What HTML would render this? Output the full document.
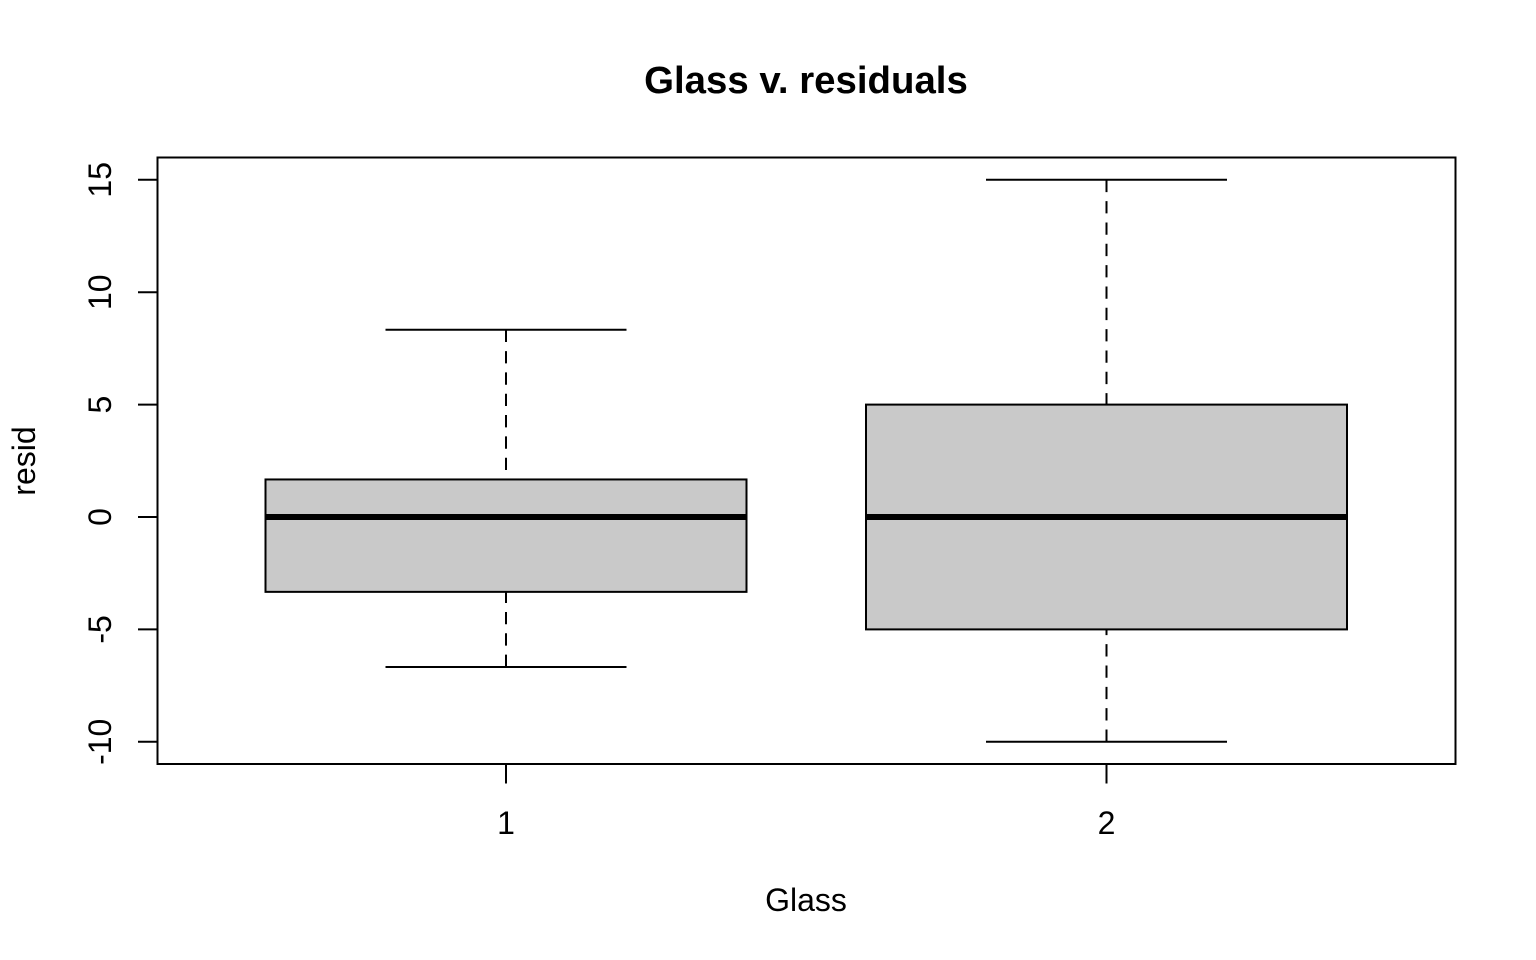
<!DOCTYPE html>
<html>
<head>
<meta charset="utf-8">
<style>
html,body{margin:0;padding:0;background:#fff;}
svg{display:block;}
text{font-family:"Liberation Sans",Arial,sans-serif;fill:#000;}
</style>
</head>
<body>
<svg id="chart" xmlns="http://www.w3.org/2000/svg" width="1536" height="960" viewBox="0 0 1536 960">
<text x="806" y="93" text-anchor="middle" font-size="38.4" font-weight="bold">Glass v. residuals</text>
<text x="806" y="911" text-anchor="middle" font-size="32">Glass</text>
<text x="35" y="461" text-anchor="middle" font-size="32" transform="rotate(-90 35 461)">resid</text>
<g id="marks"></g>
<rect x="157.5" y="157.5" width="1298" height="606.5" fill="none" stroke="#000" stroke-width="2"/>
<g id="axes"></g>
</svg>
<script>
const categories = ['1', '2'];
const whiskerLow = [-6.67, -10];
const q1 = [-3.33, -5];
const medians = [0, 0];
const q3 = [1.67, 5];
const whiskerHigh = [8.33, 15];
const yTicks = [-10, -5, 0, 5, 10, 15];
const yTickLabels = ['-10', '-5', '0', '5', '10', '15'];

const NS = 'http://www.w3.org/2000/svg';
const xPos = i => 506 + (1106.5 - 506) * i;
const yPos = v => 517 - v * (517 - 179.8) / 15;
const halfBox = 240.5;
const halfCap = 120.5;
const dash = '12.3 9.03';

function mk(parent, tag, attrs) {
  const el = document.createElementNS(NS, tag);
  for (const k in attrs) el.setAttribute(k, attrs[k]);
  parent.appendChild(el);
  return el;
}

const marks = document.getElementById('marks');
const axes = document.getElementById('axes');

categories.forEach((c, i) => {
  const x = xPos(i);
  const g = mk(marks, 'g', {});
  
  

  const whiskerUp = mk(g, 'line', {x1: x, x2: x, y1: yPos(whiskerHigh[i]), y2: yPos(q3[i]), stroke: '#000', 'stroke-width': 2, 'stroke-dasharray': dash});
  
  

  const whiskerDown = mk(g, 'line', {x1: x, x2: x, y1: yPos(whiskerLow[i]), y2: yPos(q1[i]), stroke: '#000', 'stroke-width': 2, 'stroke-dasharray': dash});
  
  

  const capUp = mk(g, 'line', {x1: x - halfCap, x2: x + halfCap, y1: yPos(whiskerHigh[i]), y2: yPos(whiskerHigh[i]), stroke: '#000', 'stroke-width': 2});
  
  

  const capDown = mk(g, 'line', {x1: x - halfCap, x2: x + halfCap, y1: yPos(whiskerLow[i]), y2: yPos(whiskerLow[i]), stroke: '#000', 'stroke-width': 2});
  
  

  const box = mk(g, 'rect', {x: x - halfBox, y: yPos(q3[i]), width: 2 * halfBox, height: yPos(q1[i]) - yPos(q3[i]), fill: '#c9c9c9', stroke: '#000', 'stroke-width': 2});
  
  

  const med = mk(g, 'line', {x1: x - halfBox, x2: x + halfBox, y1: yPos(medians[i]), y2: yPos(medians[i]), stroke: '#000', 'stroke-width': 6});
  
  

  const tick = mk(axes, 'line', {x1: x, x2: x, y1: 764, y2: 783.5, stroke: '#000', 'stroke-width': 2});
  
  

  const label = mk(axes, 'text', {x: x, y: 834, 'text-anchor': 'middle', 'font-size': 32});
  
  
  label.textContent = c;
});

const xAxisLine = mk(axes, 'line', {x1: xPos(0), x2: xPos(categories.length - 1), y1: 764, y2: 764, stroke: '#000', 'stroke-width': 2});



const yAxisLine = mk(axes, 'line', {x1: 157.5, x2: 157.5, y1: yPos(yTicks[yTicks.length - 1]), y2: yPos(yTicks[0]), stroke: '#000', 'stroke-width': 2});



yTicks.forEach((v, i) => {
  const y = yPos(v);
  const tick = mk(axes, 'line', {x1: 138, x2: 157.5, y1: y, y2: y, stroke: '#000', 'stroke-width': 2});
  
  

  const label = mk(axes, 'text', {x: 111, y: y, 'text-anchor': 'middle', 'font-size': 32, transform: 'rotate(-90 111 ' + y + ')'});
  
  
  label.textContent = yTickLabels[i];
});
</script>
</body>
</html>
